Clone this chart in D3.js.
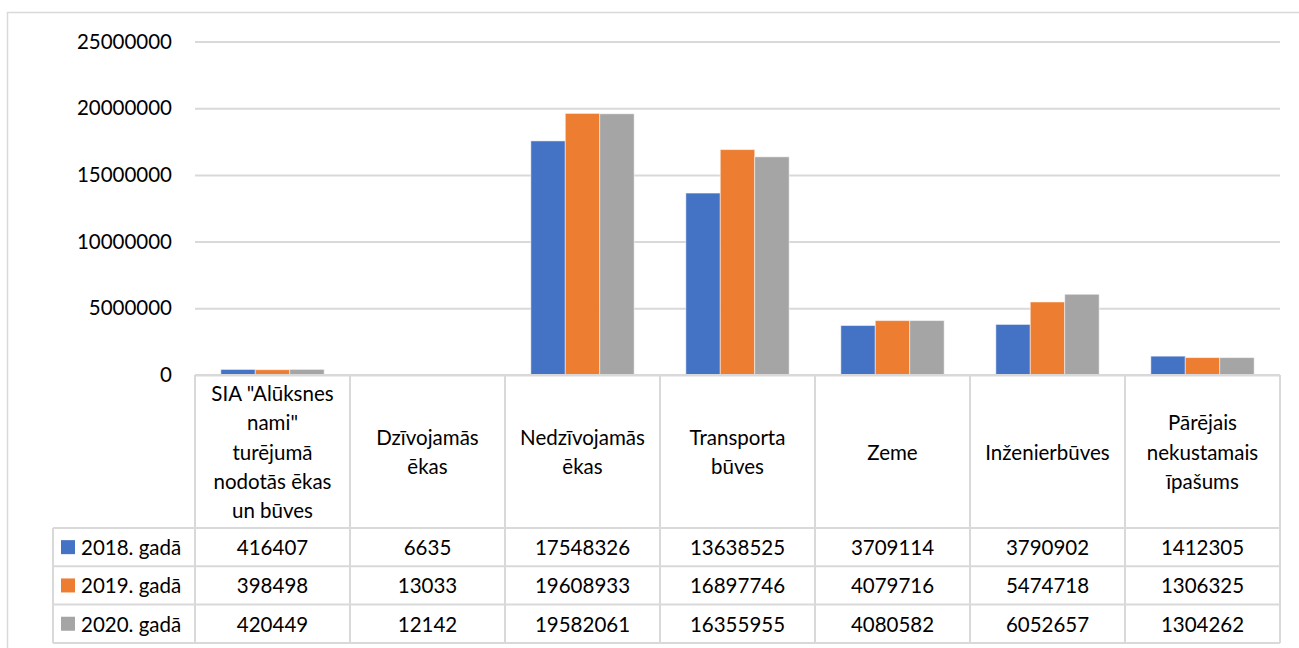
<!DOCTYPE html>
<html>
<head>
<meta charset="utf-8">
<script src="https://cdn.jsdelivr.net/npm/d3@7"></script>
<style>
  html, body { margin: 0; padding: 0; background: #fff; }
  svg { display: block; }
  text { font-family: Lato, "Liberation Sans", sans-serif; fill: #000; }
</style>
</head>
<body>
<svg id="chart" width="1299" height="648"></svg>
<script>
// ---- data ----
const categories = [
  ["SIA \"Alūksnes", "nami\"", "turējumā", "nodotās ēkas", "un būves"],
  ["Dzīvojamās", "ēkas"],
  ["Nedzīvojamās", "ēkas"],
  ["Transporta", "būves"],
  ["Zeme"],
  ["Inženierbūves"],
  ["Pārējais", "nekustamais", "īpašums"]
];
const seriesNames = ["2018. gadā", "2019. gadā", "2020. gadā"];
const values2018 = [416407, 6635, 17548326, 13638525, 3709114, 3790902, 1412305];
const values2019 = [398498, 13033, 19608933, 16897746, 4079716, 5474718, 1306325];
const values2020 = [420449, 12142, 19582061, 16355955, 4080582, 6052657, 1304262];
const yTicks = [0, 5000000, 10000000, 15000000, 20000000, 25000000];
const colors = ["#4472C4", "#ED7D31", "#A5A5A5"];

const seriesValues = [values2018, values2019, values2020];
const catKeys = categories.map((c, i) => "c" + i);

// ---- layout ----
const svg = d3.select("#chart");
const plotLeft = 195, plotRight = 1280, plotTop = 41.5, plotBottom = 375;
const headerBottom = 528, rowH = 38.3;
const tableLeft = 53;
const gridColor = "#d9d9d9";
const fontSize = 20.5;

// outer frame
svg.append("path")
  .attr("d", `M7.5,648 L7.5,12.5 L1299,12.5`)
  .attr("fill", "none").attr("stroke", gridColor).attr("stroke-width", 1.5);

const y = d3.scaleLinear().domain([0, 25000000]).range([plotBottom, plotTop]);
const x0 = d3.scaleBand().domain(catKeys).range([plotLeft, plotRight]).padding(0);
const x1 = d3.scaleBand().domain(seriesNames).range([0, x0.bandwidth()])
  .paddingInner(0).paddingOuter(0.75);

// y axis with gridlines
const yAxis = d3.axisLeft(y).tickValues(yTicks)
  .tickSize(-(plotRight - plotLeft)).tickPadding(23)
  .tickFormat(d => String(d));
const gy = svg.append("g").attr("transform", `translate(${plotLeft},0)`).call(yAxis);
gy.select(".domain").remove();
gy.selectAll(".tick line").attr("stroke", gridColor).attr("stroke-width", 2);
gy.selectAll(".tick text")
  .attr("font-size", fontSize).attr("font-family", "Lato, sans-serif").attr("fill", "#000");

// bars
const groups = svg.append("g").selectAll("g")
  .data(catKeys).join("g")
  .attr("transform", d => `translate(${x0(d)},0)`);
groups.selectAll("rect")
  .data((d, i) => seriesNames.map((s, j) => ({ s, j, v: seriesValues[j][i] })))
  .join("rect")
  .attr("x", d => x1(d.s))
  .attr("width", x1.bandwidth())
  .attr("y", d => y(d.v))
  .attr("height", d => y(0) - y(d.v))
  .attr("fill", d => colors[d.j])
  .attr("stroke", "#fff").attr("stroke-opacity", 0.5).attr("stroke-width", 1);

// ---- data table ----
const tbl = svg.append("g");
const rowYs = [headerBottom, headerBottom + rowH, headerBottom + 2 * rowH, headerBottom + 3 * rowH];
const tableBottom = rowYs[3];

// horizontal lines
tbl.append("line").attr("x1", plotLeft).attr("x2", plotRight)
  .attr("y1", plotBottom).attr("y2", plotBottom);
rowYs.forEach(ry => {
  tbl.append("line").attr("x1", tableLeft).attr("x2", plotRight)
    .attr("y1", ry).attr("y2", ry);
});
// vertical lines
tbl.append("line").attr("x1", tableLeft).attr("x2", tableLeft)
  .attr("y1", headerBottom).attr("y2", tableBottom);
const bounds = catKeys.map(k => x0(k)).concat([plotRight]);
bounds.forEach(bx => {
  tbl.append("line").attr("x1", bx).attr("x2", bx)
    .attr("y1", plotBottom).attr("y2", tableBottom);
});
tbl.selectAll("line").attr("stroke", gridColor).attr("stroke-width", 2);

// header labels
const lineH = 29.3;
const headerMid = (plotBottom + headerBottom) / 2;
categories.forEach((lines, i) => {
  const cx = x0(catKeys[i]) + x0.bandwidth() / 2;
  const t = tbl.append("text")
    .attr("text-anchor", "middle").attr("font-size", fontSize)
    .attr("dominant-baseline", "central");
  lines.forEach((ln, k) => {
    t.append("tspan").attr("x", cx)
      .attr("y", headerMid + (k - (lines.length - 1) / 2) * lineH)
      .text(ln);
  });
});

// rows
seriesNames.forEach((s, j) => {
  const cy = rowYs[j] + rowH / 2;
  tbl.append("rect").attr("x", 61).attr("y", cy - 7).attr("width", 14).attr("height", 14)
    .attr("fill", colors[j]);
  tbl.append("text").attr("x", 81).attr("y", cy)
    .attr("dominant-baseline", "central").attr("font-size", fontSize).text(s);
  seriesValues[j].forEach((v, i) => {
    tbl.append("text")
      .attr("x", x0(catKeys[i]) + x0.bandwidth() / 2).attr("y", cy)
      .attr("text-anchor", "middle").attr("dominant-baseline", "central")
      .attr("font-size", fontSize).text(String(v));
  });
});
</script>
</body>
</html>
